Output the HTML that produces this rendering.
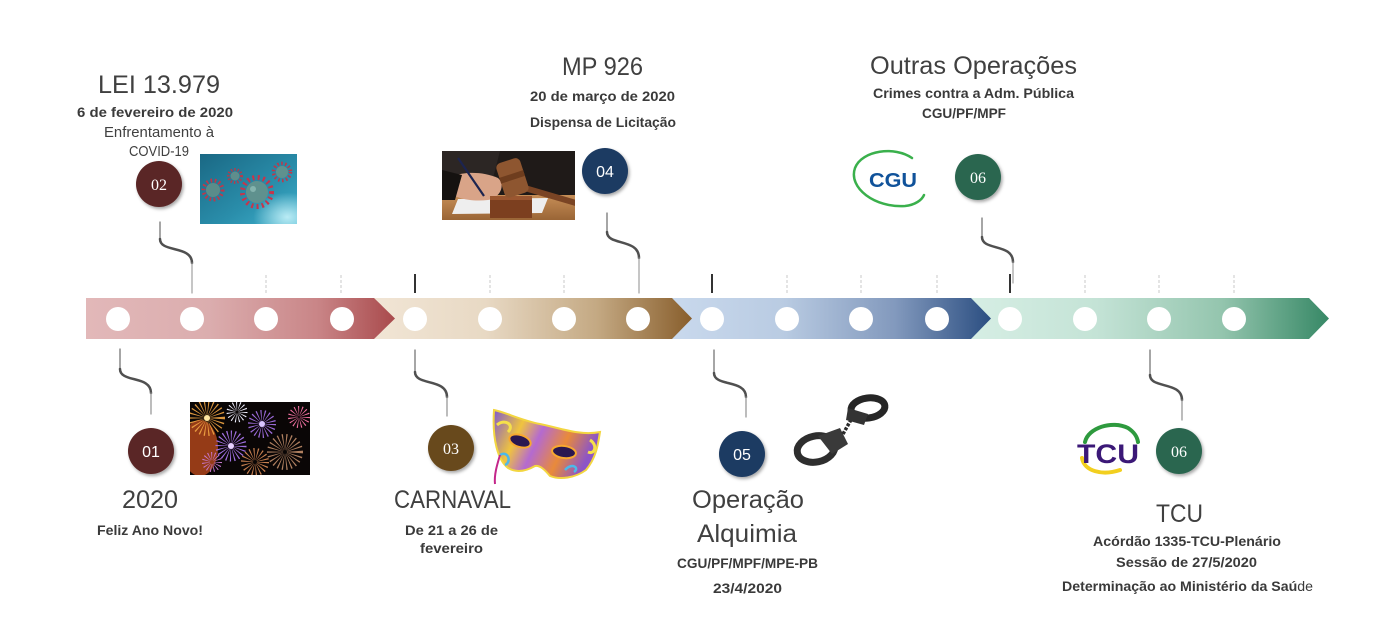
<!DOCTYPE html>
<html>
<head>
<meta charset="utf-8">
<style>
html,body{margin:0;padding:0;background:#fff;}
svg{display:block;}
</style>
</head>
<body>
<svg width="1394" height="640" viewBox="0 0 1394 640" xmlns="http://www.w3.org/2000/svg" font-family="'Liberation Sans', sans-serif">
<defs>
  <linearGradient id="g1" gradientUnits="userSpaceOnUse" x1="86" y1="0" x2="395" y2="0">
    <stop offset="0" stop-color="#e2b8b9"/><stop offset="0.4" stop-color="#dbadae"/><stop offset="0.75" stop-color="#c98587"/><stop offset="1" stop-color="#a94a4c"/>
  </linearGradient>
  <linearGradient id="g2" gradientUnits="userSpaceOnUse" x1="374" y1="0" x2="692" y2="0">
    <stop offset="0" stop-color="#f1e5d5"/><stop offset="0.35" stop-color="#e8d9c4"/><stop offset="0.7" stop-color="#c4a983"/><stop offset="1" stop-color="#885e2c"/>
  </linearGradient>
  <linearGradient id="g3" gradientUnits="userSpaceOnUse" x1="672" y1="0" x2="991" y2="0">
    <stop offset="0" stop-color="#c9d9ed"/><stop offset="0.35" stop-color="#b9cbe2"/><stop offset="0.7" stop-color="#8299bd"/><stop offset="1" stop-color="#2b4e81"/>
  </linearGradient>
  <linearGradient id="g4" gradientUnits="userSpaceOnUse" x1="971" y1="0" x2="1329" y2="0">
    <stop offset="0" stop-color="#d6eee4"/><stop offset="0.35" stop-color="#c4e3d6"/><stop offset="0.7" stop-color="#94c5ae"/><stop offset="1" stop-color="#378866"/>
  </linearGradient>
  <linearGradient id="vg" x1="0" y1="0" x2="1" y2="1">
    <stop offset="0" stop-color="#1a6884"/><stop offset="0.6" stop-color="#2a8eab"/><stop offset="1" stop-color="#3fb0cc"/>
  </linearGradient>
  <radialGradient id="vspot" cx="0.9" cy="0.9" r="0.35">
    <stop offset="0" stop-color="#c8f3fa" stop-opacity="0.9"/><stop offset="1" stop-color="#c8f3fa" stop-opacity="0"/>
  </radialGradient>
  <linearGradient id="desk" x1="0" y1="0" x2="0" y2="1">
    <stop offset="0" stop-color="#c68e57"/><stop offset="1" stop-color="#9a6536"/>
  </linearGradient>
  <linearGradient id="mg" x1="0" y1="0" x2="1" y2="0.3">
    <stop offset="0" stop-color="#7e5ad0"/><stop offset="0.3" stop-color="#f0c43e"/><stop offset="0.5" stop-color="#b46ad0"/><stop offset="0.75" stop-color="#e98a3a"/><stop offset="1" stop-color="#8d55c6"/>
  </linearGradient>
  <filter id="sh" x="-30%" y="-30%" width="170%" height="170%">
    <feDropShadow dx="1.5" dy="2" stdDeviation="1.5" flood-color="#000" flood-opacity="0.35"/>
  </filter>
  <clipPath id="cv"><rect x="200" y="154" width="97" height="70"/></clipPath>
  <clipPath id="cf"><rect x="190" y="402" width="120" height="73"/></clipPath>
  <clipPath id="cg"><rect x="442" y="151" width="133" height="69"/></clipPath>
</defs>

<!-- Band segments -->
<polygon points="971,298 1309,298 1329,318.5 1309,339 971,339" fill="url(#g4)"/>
<polygon points="672,298 971,298 991,318.5 971,339 672,339" fill="url(#g3)"/>
<polygon points="374,298 672,298 692,318.5 672,339 374,339" fill="url(#g2)"/>
<polygon points="86,298 374,298 395,318.5 374,339 86,339" fill="url(#g1)"/>

<!-- White circles on band -->
<g fill="#fff">
  <circle cx="118" cy="319" r="12"/><circle cx="192" cy="319" r="12"/><circle cx="266" cy="319" r="12"/><circle cx="342" cy="319" r="12"/>
  <circle cx="415" cy="319" r="12"/><circle cx="490" cy="319" r="12"/><circle cx="564" cy="319" r="12"/><circle cx="638" cy="319" r="12"/>
  <circle cx="712" cy="319" r="12"/><circle cx="787" cy="319" r="12"/><circle cx="861" cy="319" r="12"/><circle cx="937" cy="319" r="12"/>
  <circle cx="1010" cy="319" r="12"/><circle cx="1085" cy="319" r="12"/><circle cx="1159" cy="319" r="12"/><circle cx="1234" cy="319" r="12"/>
</g>

<!-- Ticks above band -->
<g stroke="#c9c9c9" stroke-width="1" stroke-dasharray="3 2">
  <line x1="266" y1="275" x2="266" y2="293"/><line x1="341" y1="275" x2="341" y2="293"/>
  <line x1="490" y1="275" x2="490" y2="293"/><line x1="564" y1="275" x2="564" y2="293"/>
  <line x1="787" y1="275" x2="787" y2="293"/><line x1="861" y1="275" x2="861" y2="293"/><line x1="937" y1="275" x2="937" y2="293"/>
  <line x1="1085" y1="275" x2="1085" y2="293"/><line x1="1159" y1="275" x2="1159" y2="293"/><line x1="1234" y1="275" x2="1234" y2="293"/>
</g>
<g stroke="#333" stroke-width="2">
  <line x1="415" y1="274" x2="415" y2="293"/>
  <line x1="712" y1="274" x2="712" y2="293"/>
  <line x1="1010" y1="274" x2="1010" y2="293"/>
</g>

<!-- Connectors -->
<g fill="none" stroke-linecap="round">
  <line x1="160" y1="222" x2="160" y2="239" stroke="#777" stroke-width="1.3"/>
  <path d="M160 239 C160 253 192 245 192 263" stroke="#505050" stroke-width="2.5"/>
  <line x1="192" y1="263" x2="192" y2="293" stroke="#a0a0a0" stroke-width="1.2"/>
  <line x1="607" y1="213" x2="607" y2="232" stroke="#777" stroke-width="1.3"/>
  <path d="M607 232 C607 246 639 238 639 258" stroke="#505050" stroke-width="2.5"/>
  <line x1="639" y1="258" x2="639" y2="293" stroke="#a0a0a0" stroke-width="1.2"/>
  <line x1="982" y1="218" x2="982" y2="237" stroke="#777" stroke-width="1.3"/>
  <path d="M982 237 C982 251 1013 243 1013 262" stroke="#505050" stroke-width="2.5"/>
  <line x1="1013" y1="262" x2="1013" y2="283" stroke="#a0a0a0" stroke-width="1.2"/>
  <line x1="120" y1="349" x2="120" y2="369" stroke="#777" stroke-width="1.3"/>
  <path d="M120 369 C120 383 151 375 151 393" stroke="#505050" stroke-width="2.5"/>
  <line x1="151" y1="393" x2="151" y2="414" stroke="#999" stroke-width="1.3"/>
  <line x1="415" y1="350" x2="415" y2="372" stroke="#777" stroke-width="1.3"/>
  <path d="M415 372 C415 386 447 378 447 397" stroke="#505050" stroke-width="2.5"/>
  <line x1="447" y1="397" x2="447" y2="416" stroke="#999" stroke-width="1.3"/>
  <line x1="714" y1="350" x2="714" y2="373" stroke="#777" stroke-width="1.3"/>
  <path d="M714 373 C714 387 746 379 746 397" stroke="#505050" stroke-width="2.5"/>
  <line x1="746" y1="397" x2="746" y2="417" stroke="#999" stroke-width="1.3"/>
  <line x1="1150" y1="350" x2="1150" y2="375" stroke="#777" stroke-width="1.3"/>
  <path d="M1150 375 C1150 389 1182 381 1182 400" stroke="#505050" stroke-width="2.5"/>
  <line x1="1182" y1="400" x2="1182" y2="420" stroke="#999" stroke-width="1.3"/>
</g>

<!-- Numbered circles -->
<g filter="url(#sh)">
  <circle cx="159" cy="184" r="23" fill="#5a2626"/>
  <circle cx="605" cy="171" r="23" fill="#1f3b62"/>
  <circle cx="978" cy="177" r="23" fill="#2c6650"/>
  <circle cx="151" cy="451" r="23" fill="#5a2626"/>
  <circle cx="451" cy="448" r="23" fill="#684a1f"/>
  <circle cx="742" cy="454" r="23" fill="#1f3b62"/>
  <circle cx="1179" cy="451" r="23" fill="#2c6650"/>
</g>
<g fill="#fff" font-size="16" text-anchor="middle">
  <text x="159" y="190" font-family="'Liberation Serif', serif">02</text>
  <text x="605" y="177">04</text>
  <text x="978" y="183" font-family="'Liberation Serif', serif">06</text>
  <text x="151" y="457">01</text>
  <text x="451" y="454" font-family="'Liberation Serif', serif">03</text>
  <text x="742" y="460">05</text>
  <text x="1179" y="457" font-family="'Liberation Serif', serif">06</text>
</g>

<!-- Virus image -->
<g clip-path="url(#cv)">
  <rect x="200" y="154" width="97" height="70" fill="url(#vg)"/>
  <rect x="200" y="154" width="97" height="70" fill="url(#vspot)"/>
  <circle cx="257" cy="192" r="14.5" fill="none" stroke="#c8344a" stroke-width="5" stroke-dasharray="2 3.3"/>
  <circle cx="257" cy="192" r="11" fill="#5f918e"/>
  <circle cx="253" cy="189" r="3" fill="#84b3ae"/>
  <circle cx="213" cy="190" r="9.5" fill="none" stroke="#c23648" stroke-width="4" stroke-dasharray="1.6 2.6"/>
  <circle cx="213" cy="190" r="7" fill="#5a8c8a"/>
  <circle cx="235" cy="176" r="6.5" fill="none" stroke="#b83a4a" stroke-width="3" stroke-dasharray="1.3 2"/>
  <circle cx="235" cy="176" r="4.5" fill="#5f8d8c"/>
  <circle cx="282" cy="172" r="8.5" fill="none" stroke="#c23648" stroke-width="3.5" stroke-dasharray="1.5 2.4"/>
  <circle cx="282" cy="172" r="6" fill="#5f918e"/>
</g>

<!-- Gavel image -->
<g clip-path="url(#cg)">
  <rect x="442" y="151" width="133" height="69" fill="#1f1a18"/>
  <path d="M442 151 L500 151 L490 190 L442 195 Z" fill="#2c2624"/>
  <rect x="442" y="195" width="133" height="25" fill="url(#desk)"/>
  <polygon points="458,199 548,198 542,213 452,214" fill="#eeeeee"/>
  <path d="M448 180 C455 172 480 170 498 178 C506 185 500 198 488 200 C470 202 452 198 448 190 Z" fill="#d9a488"/>
  <path d="M442 170 L462 175 L455 200 L442 200 Z" fill="#151210"/>
  <line x1="458" y1="158" x2="484" y2="196" stroke="#1c2450" stroke-width="2.2"/>
  <rect x="490" y="196" width="42" height="22" fill="#7c3f1f"/>
  <rect x="490" y="196" width="42" height="4" fill="#9a5630"/>
  <line x1="518" y1="186" x2="576" y2="203" stroke="#7a4424" stroke-width="6" stroke-linecap="round"/>
  <g transform="rotate(-18 512 178)">
    <rect x="500" y="160" width="25" height="36" rx="5" fill="#8e5630"/>
    <rect x="500" y="174" width="25" height="6" fill="#6e3d1e"/>
  </g>
</g>

<!-- CGU logo -->
<path d="M912 158 C895 146 862 150 855 168 C848 188 875 208 905 206 C915 205 922 200 924 195" fill="none" stroke="#3ab04c" stroke-width="2.5" stroke-linecap="round"/>
<text x="869" y="187" font-size="20" font-weight="bold" fill="#10529a" textLength="48" lengthAdjust="spacingAndGlyphs">CGU</text>

<!-- Fireworks image -->
<g clip-path="url(#cf)">
  <rect x="190" y="402" width="120" height="73" fill="#0a0606"/>
  <ellipse cx="200" cy="448" rx="18" ry="28" fill="#b8481c" opacity="0.8"/>
  <circle cx="207" cy="418" r="10" fill="none" stroke="#f2a644" stroke-width="16" stroke-dasharray="0.8 2" opacity="0.9"/>
  <circle cx="207" cy="418" r="3" fill="#ffe6a0"/>
  <circle cx="237" cy="412" r="6" fill="none" stroke="#f0f0ff" stroke-width="9" stroke-dasharray="0.7 1.8"/>
  <circle cx="231" cy="446" r="9" fill="none" stroke="#a070e0" stroke-width="13" stroke-dasharray="0.8 2"/>
  <circle cx="231" cy="446" r="3" fill="#e6d0ff"/>
  <circle cx="262" cy="424" r="8" fill="none" stroke="#9a6ad8" stroke-width="12" stroke-dasharray="0.8 2"/>
  <circle cx="262" cy="424" r="3" fill="#d9c4ff"/>
  <circle cx="299" cy="417" r="6" fill="none" stroke="#f070a0" stroke-width="10" stroke-dasharray="0.7 1.8"/>
  <circle cx="285" cy="452" r="10" fill="none" stroke="#b08060" stroke-width="16" stroke-dasharray="0.8 2"/>
  <circle cx="255" cy="462" r="8" fill="none" stroke="#c88050" stroke-width="12" stroke-dasharray="0.8 2"/>
  <circle cx="212" cy="462" r="6" fill="none" stroke="#c878d0" stroke-width="8" stroke-dasharray="0.7 1.8"/>
</g>

<!-- Carnival mask -->
<g>
  <path d="M494 410 C505 412 520 420 540 424 C560 428 580 436 600 432 C598 445 596 458 586 470 C575 478 560 480 550 476 C545 470 540 465 535 466 C528 470 518 474 508 468 C498 460 492 440 494 410 Z" fill="url(#mg)" stroke="#f3d640" stroke-width="2"/>
  <path d="M497 425 C505 418 515 425 508 432" fill="none" stroke="#f5e04a" stroke-width="3"/>
  <path d="M590 440 C598 445 595 455 588 452" fill="none" stroke="#f5e04a" stroke-width="3"/>
  <path d="M500 455 C508 450 512 462 505 465" fill="none" stroke="#4db8e8" stroke-width="2.5"/>
  <path d="M565 470 C572 462 580 468 574 472" fill="none" stroke="#4db8e8" stroke-width="2.5"/>
  <ellipse cx="520" cy="441" rx="11" ry="6" transform="rotate(18 520 441)" fill="#2a1850" stroke="#f7a830" stroke-width="2"/>
  <ellipse cx="564" cy="452" rx="12" ry="6" transform="rotate(8 564 452)" fill="#2a1850" stroke="#f7a830" stroke-width="2"/>
  <path d="M500 455 C497 465 494 475 495 484" fill="none" stroke="#c4268a" stroke-width="2"/>
</g>

<!-- Handcuffs -->
<g>
  <ellipse cx="816" cy="449" rx="19" ry="13" transform="rotate(-12 816 449)" fill="none" stroke="#2e2e2e" stroke-width="7"/>
  <path d="M818 436 L840 428 L848 444 L832 454 Z" fill="#3a3a3a"/>
  <line x1="843" y1="434" x2="852" y2="418" stroke="#2a2a2a" stroke-width="3.5" stroke-dasharray="3 1.5"/>
  <ellipse cx="868" cy="408" rx="17" ry="10" transform="rotate(-8 868 408)" fill="none" stroke="#262626" stroke-width="7"/>
  <path d="M848 408 L868 414 L864 425 L846 420 Z" fill="#333"/>
</g>

<!-- TCU logo -->
<path d="M1085 442 C1088 428 1112 420 1128 428 C1134 432 1137 436 1138 442" fill="none" stroke="#2e9a3e" stroke-width="4" stroke-linecap="round"/>
<path d="M1082 458 C1084 471 1102 476 1120 470" fill="none" stroke="#f2cf1f" stroke-width="4" stroke-linecap="round"/>
<text x="1077" y="463" font-size="27" font-weight="bold" fill="#3b1877" textLength="62" lengthAdjust="spacingAndGlyphs">TCU</text>

<!-- Titles -->
<g font-size="25" fill="#404040">
  <text x="98" y="93" textLength="122" lengthAdjust="spacingAndGlyphs">LEI 13.979</text>
  <text x="562" y="75" textLength="81" lengthAdjust="spacingAndGlyphs">MP 926</text>
  <text x="870" y="74" textLength="207" lengthAdjust="spacingAndGlyphs">Outras Operações</text>
  <text x="122" y="508" textLength="56" lengthAdjust="spacingAndGlyphs">2020</text>
  <text x="394" y="508" textLength="117" lengthAdjust="spacingAndGlyphs">CARNAVAL</text>
  <text x="692" y="508" textLength="112" lengthAdjust="spacingAndGlyphs">Operação</text>
  <text x="697" y="542" textLength="100" lengthAdjust="spacingAndGlyphs">Alquimia</text>
  <text x="1156" y="522" textLength="47" lengthAdjust="spacingAndGlyphs">TCU</text>
</g>

<!-- Normal subtitle -->
<g font-size="15" fill="#404040">
  <text x="104" y="137" textLength="110" lengthAdjust="spacingAndGlyphs">Enfrentamento à</text>
  <text x="129" y="156" textLength="60" lengthAdjust="spacingAndGlyphs">COVID-19</text>
</g>

<!-- Bold subtitles -->
<g font-size="14" font-weight="bold" fill="#3a3a3a">
  <text x="77" y="117" textLength="156" lengthAdjust="spacingAndGlyphs">6 de fevereiro de 2020</text>
  <text x="530" y="101" textLength="145" lengthAdjust="spacingAndGlyphs">20 de março de 2020</text>
  <text x="530" y="127" textLength="146" lengthAdjust="spacingAndGlyphs">Dispensa de Licitação</text>
  <text x="873" y="98" textLength="201" lengthAdjust="spacingAndGlyphs">Crimes contra a Adm. Pública</text>
  <text x="922" y="118" textLength="84" lengthAdjust="spacingAndGlyphs">CGU/PF/MPF</text>
  <text x="97" y="535" textLength="106" lengthAdjust="spacingAndGlyphs">Feliz Ano Novo!</text>
  <text x="405" y="535" textLength="93" lengthAdjust="spacingAndGlyphs">De 21 a 26 de</text>
  <text x="420" y="553" textLength="63" lengthAdjust="spacingAndGlyphs">fevereiro</text>
  <text x="677" y="568" textLength="141" lengthAdjust="spacingAndGlyphs">CGU/PF/MPF/MPE-PB</text>
  <text x="713" y="593" textLength="69" lengthAdjust="spacingAndGlyphs">23/4/2020</text>
  <text x="1093" y="546" textLength="188" lengthAdjust="spacingAndGlyphs">Acórdão 1335-TCU-Plenário</text>
  <text x="1116" y="567" textLength="141" lengthAdjust="spacingAndGlyphs">Sessão de 27/5/2020</text>
  <text x="1062" y="591" textLength="251" lengthAdjust="spacingAndGlyphs">Determinação ao Ministério da Saú<tspan font-weight="normal">de</tspan></text>
</g>
</svg>
</body>
</html>
